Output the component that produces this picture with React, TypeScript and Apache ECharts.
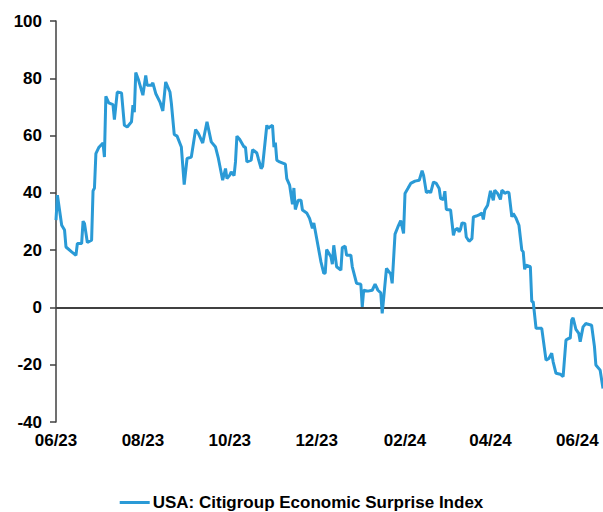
import React, { useEffect, useRef } from "react";
import * as echarts from "echarts";

const seriesName = "USA: Citigroup Economic Surprise Index";

const dates: string[] = [
  "2023-06-01", "2023-06-02", "2023-06-05", "2023-06-07", "2023-06-08", "2023-06-12", "2023-06-15", "2023-06-16",
  "2023-06-19", "2023-06-20", "2023-06-21", "2023-06-23", "2023-06-26", "2023-06-27", "2023-06-28", "2023-06-29",
  "2023-07-01", "2023-07-04", "2023-07-05", "2023-07-06", "2023-07-08", "2023-07-11", "2023-07-12", "2023-07-14",
  "2023-07-17", "2023-07-19", "2023-07-21", "2023-07-24", "2023-07-25", "2023-07-26", "2023-07-27", "2023-07-29",
  "2023-08-01", "2023-08-03", "2023-08-04", "2023-08-07", "2023-08-08", "2023-08-10", "2023-08-13", "2023-08-15",
  "2023-08-17", "2023-08-20", "2023-08-21", "2023-08-23", "2023-08-25", "2023-08-28", "2023-08-30", "2023-09-01",
  "2023-09-04", "2023-09-07", "2023-09-09", "2023-09-12", "2023-09-15", "2023-09-18", "2023-09-21", "2023-09-23",
  "2023-09-26", "2023-09-28", "2023-09-29", "2023-10-01", "2023-10-02", "2023-10-04", "2023-10-05", "2023-10-06",
  "2023-10-08", "2023-10-11", "2023-10-12", "2023-10-13", "2023-10-16", "2023-10-17", "2023-10-20", "2023-10-21",
  "2023-10-23", "2023-10-24", "2023-10-27", "2023-10-28", "2023-10-29", "2023-10-31", "2023-11-01", "2023-11-02",
  "2023-11-03", "2023-11-05", "2023-11-09", "2023-11-10", "2023-11-12", "2023-11-14", "2023-11-15", "2023-11-16",
  "2023-11-18", "2023-11-20", "2023-11-21", "2023-11-24", "2023-11-26", "2023-11-28", "2023-11-29", "2023-12-01",
  "2023-12-04", "2023-12-06", "2023-12-07", "2023-12-08", "2023-12-11", "2023-12-12", "2023-12-13", "2023-12-15",
  "2023-12-18", "2023-12-19", "2023-12-21", "2023-12-22", "2023-12-25", "2023-12-26", "2023-12-29", "2024-01-01",
  "2024-01-02", "2024-01-03", "2024-01-06", "2024-01-09", "2024-01-11", "2024-01-13", "2024-01-15", "2024-01-16",
  "2024-01-17", "2024-01-19", "2024-01-22", "2024-01-23", "2024-01-25", "2024-01-27", "2024-01-29", "2024-01-31",
  "2024-02-01", "2024-02-03", "2024-02-05", "2024-02-08", "2024-02-11", "2024-02-13", "2024-02-14", "2024-02-16",
  "2024-02-18", "2024-02-19", "2024-02-21", "2024-02-23", "2024-02-25", "2024-02-26", "2024-02-28", "2024-02-29",
  "2024-03-01", "2024-03-04", "2024-03-06", "2024-03-07", "2024-03-09", "2024-03-10", "2024-03-11", "2024-03-12",
  "2024-03-14", "2024-03-15", "2024-03-17", "2024-03-19", "2024-03-20", "2024-03-22", "2024-03-24", "2024-03-26",
  "2024-03-27", "2024-03-28", "2024-03-30", "2024-04-01", "2024-04-03", "2024-04-04", "2024-04-06", "2024-04-08",
  "2024-04-09", "2024-04-10", "2024-04-11", "2024-04-13", "2024-04-14", "2024-04-16", "2024-04-17", "2024-04-19",
  "2024-04-21", "2024-04-23", "2024-04-24", "2024-04-25", "2024-04-26", "2024-04-29", "2024-04-30", "2024-05-01",
  "2024-05-03", "2024-05-07", "2024-05-10", "2024-05-12", "2024-05-14", "2024-05-15", "2024-05-17", "2024-05-20",
  "2024-05-22", "2024-05-24", "2024-05-26", "2024-05-27", "2024-05-28", "2024-05-29", "2024-05-31", "2024-06-02",
  "2024-06-03", "2024-06-05", "2024-06-07", "2024-06-08", "2024-06-11", "2024-06-13", "2024-06-14", "2024-06-17",
  "2024-06-19",
];

const values: number[] = [
  30.5, 39.2, 28.7, 27, 21.1, 19.4, 18.2, 22.3,
  22.3, 30.1, 29.3, 22.7, 23.5, 40.7, 41.7, 53.7,
  55.8, 57.4, 52.5, 73.7, 71.4, 70.8, 65.6, 75.2,
  74.9, 63.6, 63, 64.8, 70.6, 68.2, 82, 79.3,
  74.1, 81, 77.6, 77.6, 78.4, 74.7, 71.7, 68.6,
  78.7, 75.2, 71.2, 60.4, 59.8, 56, 42.9, 52,
  52.5, 62.1, 60.7, 57.4, 64.8, 57.8, 56, 52,
  44.4, 48.5, 45, 46.2, 47.3, 46, 50.8, 59.8,
  58.6, 56, 56, 50.8, 51.4, 55.1, 53.9, 52,
  48.5, 49.2, 63.6, 62.5, 63, 63.6, 56, 57.5,
  51.4, 50.8, 50, 45, 42.7, 36, 41.7, 34.2,
  37.4, 37.4, 34, 33, 31.1, 27.6, 29.5, 24.1,
  15.9, 11.9, 12, 20.2, 17.7, 15.1, 21.7, 14.2,
  13, 20.9, 21.4, 18.2, 18.2, 14.2, 8.4, 8.1,
  0.2, 6, 5.7, 6, 8.1, 6, 5.1, -2.1,
  3.1, 13.6, 11.6, 8.4, 25.6, 28.1, 30.3, 25.8,
  39.8, 41.5, 43.3, 44.1, 44.4, 47.7, 46.2, 40.1,
  40.6, 40, 43.8, 43.3, 41.5, 38, 37.7, 40.6,
  34.2, 34, 25.2, 27, 27.6, 26.4, 27.3, 29.5,
  29.3, 24.6, 23.1, 24, 31.6, 31.9, 32.3, 33,
  30.7, 34, 35.7, 40.7, 37.4, 40.9, 39.8, 37.7,
  40.9, 40.5, 39.8, 40.3, 40, 31.6, 32.8, 31.1,
  28.7, 20, 19.4, 13.3, 14.8, 14.2, 2, 2,
  -7.3, -7.3, -18.4, -17.8, -16, -19, -23, -23.3,
  -24.2, -11.4, -10.8, -10.8, -4.4, -3.6, -7.7, -9.1,
  -12, -6.8, -5.6, -5.8, -6.2, -13.7, -20.1, -21.9,
  -28.3,
];

const xStart = "2023-06-01";
const xEnd = "2024-06-19";
const xLabelDates: string[] = ["2023-06-01", "2023-08-01", "2023-10-01", "2023-12-01", "2024-02-01", "2024-04-01", "2024-06-01"];

const yMin = -40;
const yMax = 100;
const yStep = 20;

function toTime(s: string): number {
  const [y, m, d] = s.split("-").map(Number);
  return new Date(y, m - 1, d).getTime();
}

const FONT = 'Arial, "Liberation Sans", Helvetica, sans-serif';
const LINE_COLOR = "#2A9AD6";

export default function App() {
  const ref = useRef<HTMLDivElement>(null);

  useEffect(() => {
    if (!ref.current) return;
    const chart = echarts.init(ref.current, undefined, { renderer: "svg" });
    const data = dates.map((d, i) => [toTime(d), values[i]]);
    const nSplits = Math.round((yMax - yMin) / yStep) + 1;
    const splitColors: string[] = [];
    for (let i = 0; i < nSplits; i++) {
      splitColors.push(yMin + i * yStep === 0 ? "#000000" : "rgba(0,0,0,0)");
    }
    chart.setOption({
      animation: false,
      backgroundColor: "#ffffff",
      textStyle: { fontFamily: FONT },
      grid: { left: 56, right: 0, top: 21, bottom: 90, containLabel: false },
      legend: {
        show: true,
        data: [seriesName],
        left: "center",
        top: 489,
        icon: "rect",
        itemWidth: 30,
        itemHeight: 3,
        itemStyle: { color: LINE_COLOR },
        textStyle: { fontSize: 17, fontWeight: "bold", color: "#000", fontFamily: FONT, padding: [0, 0, 0, -2] },
      },
      xAxis: {
        type: "value",
        min: toTime(xStart),
        max: toTime(xEnd),
        axisLine: { show: false },
        axisTick: { show: false },
        splitLine: { show: false },
        axisLabel: {
          customValues: xLabelDates.map(toTime),
          margin: 10,
          fontSize: 17,
          fontWeight: "bold",
          color: "#000",
          fontFamily: FONT,
          formatter: (v: number) => {
            const dt = new Date(v);
            const mm = String(dt.getMonth() + 1).padStart(2, "0");
            const yy = String(dt.getFullYear() % 100).padStart(2, "0");
            return `${mm}/${yy}`;
          },
        },
      },
      yAxis: {
        type: "value",
        min: yMin,
        max: yMax,
        interval: yStep,
        axisLine: { show: true, lineStyle: { color: "#404040", width: 1.5 } },
        axisTick: { show: true, length: 6, inside: false, lineStyle: { color: "#404040", width: 1.5 } },
        axisLabel: { margin: 14, fontSize: 17, fontWeight: "bold", color: "#000", fontFamily: FONT },
        splitLine: { show: true, lineStyle: { color: splitColors, width: 1.5 } },
      },
      series: [
        {
          name: seriesName,
          type: "line",
          data,
          symbol: "none",
          showSymbol: false,
          lineStyle: { color: LINE_COLOR, width: 3 },
          itemStyle: { color: LINE_COLOR },
          clip: false,
        },
      ],
    });
    return () => chart.dispose();
  }, []);

  return (
    <div
      ref={ref}
      style={{ position: "fixed", left: 0, top: 0, width: 603, height: 512, background: "#fff" }}
    />
  );
}
